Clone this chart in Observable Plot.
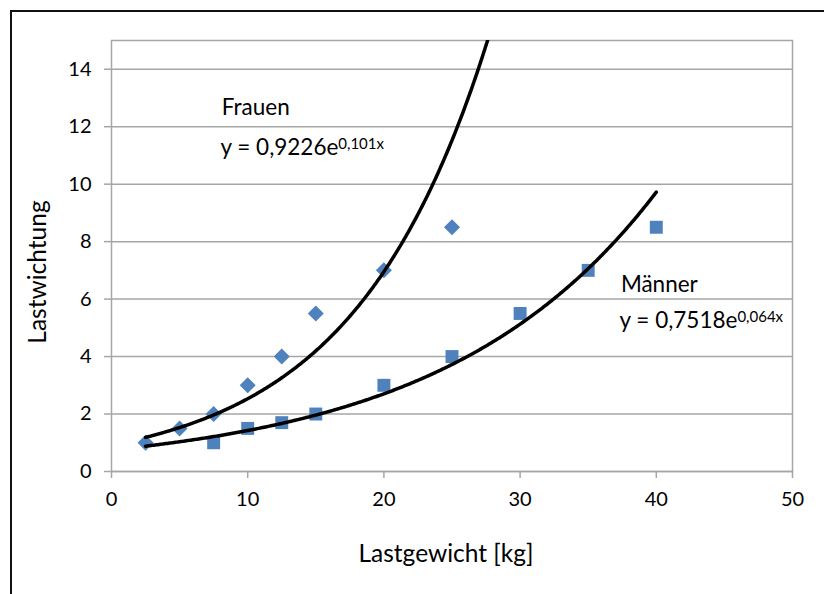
<!DOCTYPE html>
<html><head><meta charset="utf-8">
<script src="https://cdn.jsdelivr.net/npm/d3@7"></script>
<script src="https://cdn.jsdelivr.net/npm/@observablehq/plot@0.6"></script>
<style>
body{margin:0;background:#fff;}
#wrap{position:relative;width:824px;height:594px;overflow:hidden;font-family:Lato,sans-serif;}
#frame{position:absolute;left:10px;top:10px;width:840px;height:620px;border-left:2px solid #111;border-top:2px solid #111;}
#wrap svg{position:absolute;left:0;top:0;}
</style></head><body><div id="wrap"><div id="frame"></div></div>
<script>
// Data
const frauenX = [2.5, 5, 7.5, 10, 12.5, 15, 20, 25];
const frauenY = [1, 1.5, 2, 3, 4, 5.5, 7, 8.5];
const maennerX = [7.5, 10, 12.5, 15, 20, 25, 30, 35, 40];
const maennerY = [1, 1.5, 1.7, 2, 3, 4, 5.5, 7, 8.5];
// Exponential trendlines y = a·e^(b·x), as printed on the chart
const seriesNames = ["Frauen", "Männer"];
const trendA = [0.9226, 0.7518];
const trendB = [0.101, 0.064];
const trendFrom = [2.5, 2.5];
const trendTo = [28, 40];
const equations = ["y = 0,9226e|0,101x", "y = 0,7518e|0,064x"];
const labelX = [8.1, 37.4];
const labelY = [12.39, 6.23];
const eqX = [8.0, 37.3];
const eqY = [11.0, 4.98];
const xTicks = [0, 10, 20, 30, 40, 50];
const yTicks = [0, 2, 4, 6, 8, 10, 12, 14];
const xTitle = "Lastgewicht [kg]";
const yTitle = "Lastwichtung";

const frauen = frauenX.map((x, i) => ({x, y: frauenY[i]}));
const maenner = maennerX.map((x, i) => ({x, y: maennerY[i]}));
const trends = seriesNames.flatMap((s, k) =>
  d3.range(trendFrom[k], trendTo[k] + 1e-9, 0.1).map(x => ({s, x, y: trendA[k] * Math.exp(trendB[k] * x)})));
const labels = seriesNames.map((s, k) => ({t: s, x: labelX[k], y: labelY[k]}));
const eqs = equations.map((t, k) => ({t, x: eqX[k], y: eqY[k]}));

const grid = "#a6a6a6";
const blue = "#4f81bd";

const chart = Plot.plot({
  width: 824, height: 594,
  marginLeft: 111, marginRight: 32, marginTop: 40, marginBottom: 123,
  style: {fontFamily: "Lato, sans-serif", fontSize: "20px", background: "transparent", color: "#000"},
  x: {domain: [0, 50]},
  y: {domain: [0, 15]},
  marks: [
    Plot.gridY(yTicks, {stroke: grid, strokeOpacity: 1, strokeWidth: 1.5}),
    Plot.frame({stroke: grid, strokeWidth: 1.5}),
    Plot.axisX(xTicks, {tickSize: 7, tickPadding: 13, stroke: grid, strokeWidth: 1.5, fill: "#000", fontSize: 20, label: null}),
    Plot.axisY(yTicks, {tickSize: 7, tickPadding: 13, stroke: grid, strokeWidth: 1.5, fill: "#000", fontSize: 20, label: null}),
    Plot.dot(frauen, {x: "x", y: "y", symbol: "diamond2", r: 7.2, fill: blue, stroke: "none"}),
    Plot.dot(maenner, {x: "x", y: "y", symbol: "square", r: 7.3, fill: blue, stroke: "none"}),
    Plot.line(trends, {x: "x", y: "y", z: "s", stroke: "#000", strokeWidth: 3.5, clip: true}),
    Plot.text(labels, {x: "x", y: "y", text: "t", textAnchor: "start", lineAnchor: "bottom", fontSize: 22.5, fill: "#000"}),
    Plot.text(eqs, {x: "x", y: "y", text: "t", textAnchor: "start", lineAnchor: "bottom", fontSize: 22.5, fill: "#000"}),
    Plot.text([xTitle], {frameAnchor: "bottom", dx: -6, dy: 90, lineAnchor: "bottom", fontSize: 24.5, fill: "#000"}),
    Plot.text([yTitle], {frameAnchor: "left", textAnchor: "middle", dx: -73, dy: 16, rotate: -90, fontSize: 24.5, fill: "#000"})
  ]
});

// superscript exponents in the trendline equations
d3.select(chart).selectAll("text").each(function() {
  const t = this.textContent;
  if (t.includes("|") && this.childElementCount === 0) {
    const [base, sup] = t.split("|");
    const sel = d3.select(this);
    sel.text(null);
    sel.append("tspan").text(base);
    sel.append("tspan").attr("dy", "-0.45em").attr("font-size", "15px").text(sup);
  }
});

document.getElementById("wrap").appendChild(chart);
</script>
</body></html>
